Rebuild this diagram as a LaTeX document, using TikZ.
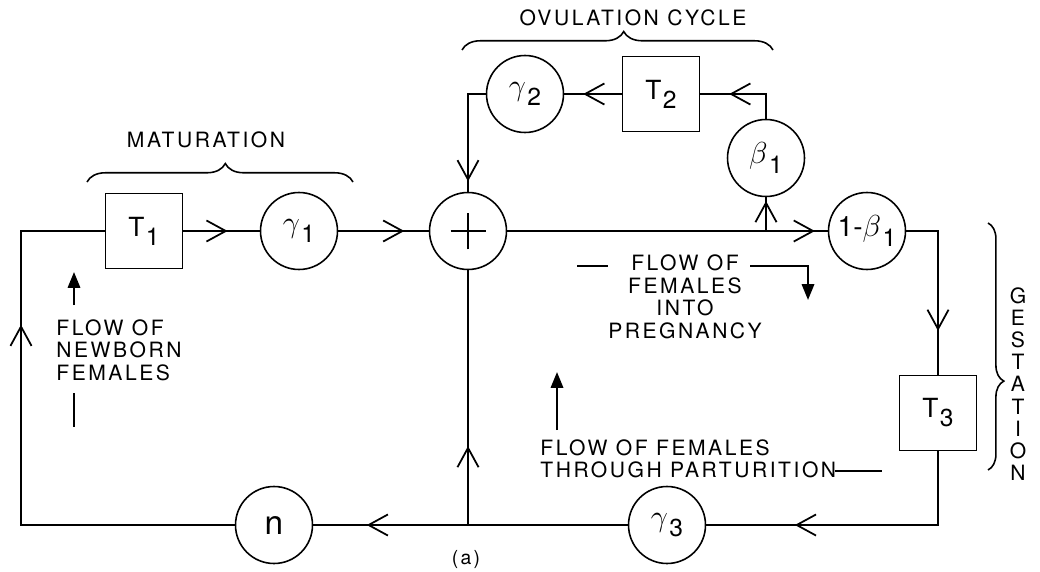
\documentclass[tikz,border=0pt]{standalone}
\usepackage{fontspec}
\newfontfamily\lettering{TeX Gyre Heros}[LetterSpace=12]
\newfontfamily\symfont{TeX Gyre Heros}
\usetikzlibrary{arrows.meta,decorations.markings,decorations.pathreplacing}

% subscript set low and large, as in hand lettering
\newcommand{\lowidx}[1]{\kern0.05em\raisebox{-0.65ex}{\fontsize{14}{14}\selectfont #1}}

\tikzset{
  wire/.style={line width=1.1pt},
  flow/.style={wire, postaction={decorate},
    decoration={markings, mark=at position #1 with
      {\arrow{Straight Barb[length=11pt,width=12pt,line width=1pt]}}}},
  gain/.style={circle, draw, line width=0.9pt, minimum size=1.54cm,
    inner sep=0pt, font=\symfont\fontsize{16}{16}\selectfont},
  delay/.style={rectangle, draw, line width=0.9pt, minimum width=1.54cm,
    minimum height=1.5cm, inner sep=0pt, font=\symfont\fontsize{15}{15}\selectfont},
  caption/.style={font=\lettering\fontsize{12}{12.8}\selectfont, inner sep=0pt},
  bracepen/.style={decorate, line width=0.9pt},
  pointer/.style={line width=1.3pt, -{Triangle[length=9pt,width=7pt]}}
}

\begin{document}
\begin{tikzpicture}[x=0.02cm,y=-0.02cm]
\useasboundingbox (0,0) rectangle (1040,571);

% blocks of the loop
\node[delay] (t1)  at (144,231) {T\lowidx{1}};
\node[gain]  (g1)  at (299,231) {$\gamma$\lowidx{1}};
\node[gain]  (sum) at (468,231) {};
\node[gain]  (g2)  at (525,94)  {$\gamma$\lowidx{2}};
\node[delay] (t2)  at (661,94)  {T\lowidx{2}};
\node[gain]  (b1)  at (766,158) {$\beta$\lowidx{1}};
\node[gain]  (nb1) at (867,231) {1-$\beta$\lowidx{1}};
\node[delay] (t3)  at (938,413) {T\lowidx{3}};
\node[gain]  (g3)  at (667,525) {$\gamma$\lowidx{3}};
\node[gain]  (n)   at (274,525) {\fontsize{19}{19}\selectfont n};

% summing cross
\draw[line width=0.9pt] ([xshift=-0.35cm]sum.center) -- ([xshift=0.35cm]sum.center);
\draw[line width=0.9pt] ([yshift=-0.37cm]sum.center) -- ([yshift=0.37cm]sum.center);

% junction points and corners
\coordinate (bj) at (766,231);
\coordinate (jn) at (468,525);
\coordinate (bl) at (21,525);
\coordinate (tl) at (21,231);

% signal flow
\draw[flow=0.58] (t1) -- (g1);
\draw[flow=0.73] (g1) -- (sum);
\draw[flow=0.96] (sum) -- (nb1);
\draw[flow=0.89] (bj) -- (b1);
\draw[flow=0.68] (b1) |- (t2);
\draw[flow=0.67] (t2) -- (g2);
\draw[flow=0.91] (g2) -| (sum);
\draw[flow=0.75] (nb1) -| (t3);
\draw[flow=0.71] (t3) |- (g3);
\draw[flow=0.83] (g3) -- (n);
\draw[flow=0.31] (jn) -- (sum);
\draw[flow=0.70] (n) -- (bl) -- (tl) -- (t1);

% braces and their labels
\node[caption] (mat) at (206,140) {MATURATION};
\draw[bracepen, decoration={brace, amplitude=10.5pt, aspect=0.52}] (87,182) -- (353,182);
\node[caption] (ovu) at (633,18) {OVULATION CYCLE};
\draw[bracepen, decoration={brace, amplitude=10.5pt, aspect=0.52}] (462,50) -- (773,50);
\draw[bracepen, decoration={brace, amplitude=9pt, aspect=0.64}] (988,223) -- (988,470);
\node[caption, align=center, font=\lettering\fontsize{12}{12.6}\selectfont] (gest) at (1018,384)
  {G\\E\\S\\T\\A\\T\\I\\O\\N};

% flow annotations
\node[caption, align=left, anchor=west] (newborn) at (56,350) {FLOW OF\\NEWBORN\\FEMALES};
\draw[pointer] (74,305) -- (74,272);
\draw[wire] (74,393) -- (74,427);

\node[caption, align=center] (preg) at (685,297) {FLOW OF\\FEMALES\\INTO\\PREGNANCY};
\draw[wire] (577,266) -- (608,266);
\draw[pointer] (750,266) -- (808,266) -- (808,300);

\node[caption, align=left, anchor=west] (part) at (540,459) {FLOW OF FEMALES\\THROUGH PARTURITION};
\draw[pointer] (557,430) -- (557,372);
\draw[wire] (835,471) -- (882,471);

% part label
\node[caption, anchor=south, font=\lettering\fontsize{11}{11}\selectfont] (lbl) at (466,569) {(a)};
\end{tikzpicture}
\end{document}
